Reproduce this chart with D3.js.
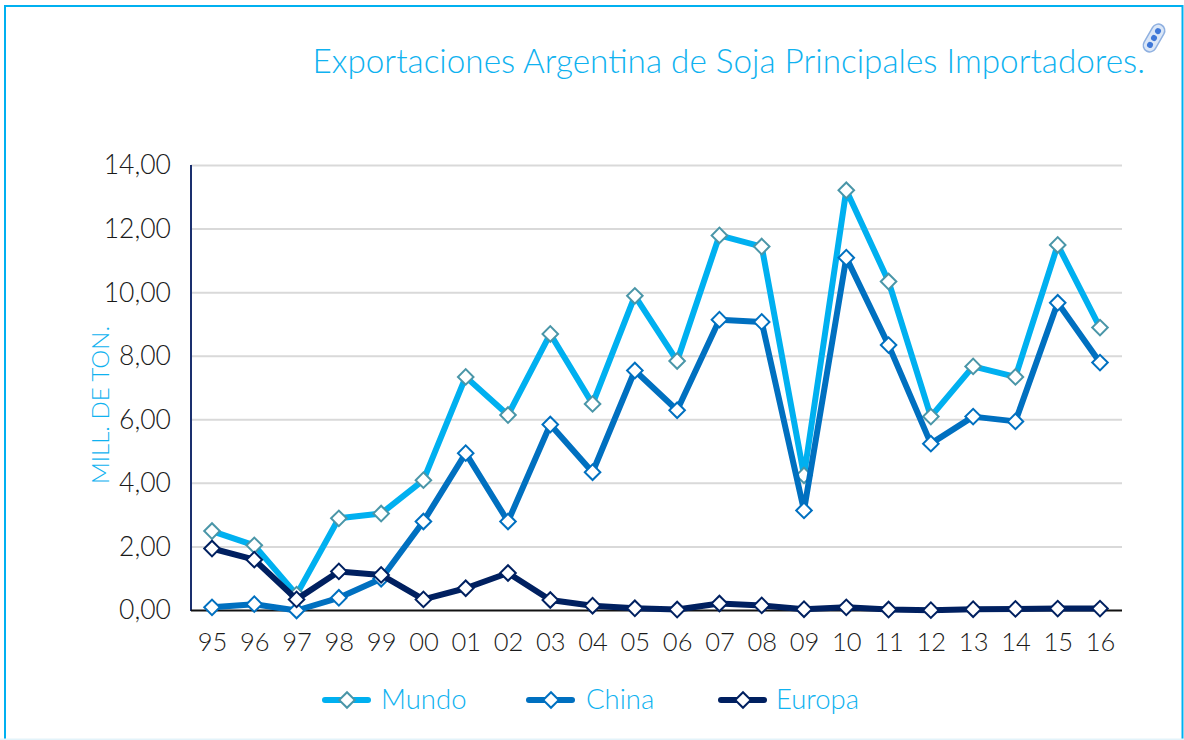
<!DOCTYPE html>
<html><head><meta charset="utf-8">
<script src="https://cdn.jsdelivr.net/npm/d3@7/dist/d3.min.js"></script>
<style>html,body{margin:0;padding:0;background:#fff}svg{display:block}text{font-family:Lato,"Open Sans",sans-serif;font-weight:300}</style>
</head><body><svg id="c" width="1184" height="740"></svg>
<script>
const years=["95","96","97","98","99","00","01","02","03","04","05","06","07","08","09","10","11","12","13","14","15","16"];
const mundo=[2.5,2.05,0.5,2.9,3.05,4.1,7.35,6.15,8.7,6.5,9.9,7.85,11.8,11.45,4.25,13.22,10.35,6.1,7.68,7.35,11.5,8.9];
const china=[0.1,0.2,0,0.4,1.0,2.8,4.95,2.8,5.85,4.35,7.55,6.3,9.15,9.08,3.15,11.1,8.35,5.25,6.1,5.95,9.68,7.8];
const europa=[1.95,1.6,0.35,1.23,1.12,0.35,0.7,1.18,0.33,0.15,0.07,0.03,0.22,0.16,0.04,0.1,0.03,0.01,0.04,0.05,0.06,0.06];
const yTicks=[0,2,4,6,8,10,12,14];
const seriesNames=["Mundo","China","Europa"];
const seriesValues=[mundo,china,europa];
const lineColors=["#00b0f0","#0070c0","#002060"];
const markerColors=["#4a96a8","#0070c0","#002060"];
const titleText="Exportaciones Argentina de Soja Principales Importadores.";
const yTitle="MILL. DE TON.";
const accent="#0fb2f0";

const svg=d3.select("#c");
svg.append("rect").attr("x",5).attr("y",6).attr("width",1177.5).attr("height",760).attr("fill","#fff").attr("stroke","#00b0f0").attr("stroke-width",2);
svg.append("rect").attr("x",0).attr("y",738.5).attr("width",1184).attr("height",1.5).attr("fill","#e3f3fa");

const x=d3.scalePoint().domain(years).range([212,1100]);
const y=d3.scaleLinear().domain([0,14]).range([610.5,165.5]);

svg.append("g").selectAll("line").data(yTicks.slice(1)).join("line")
 .attr("x1",191).attr("x2",1122).attr("y1",d=>y(d)).attr("y2",d=>y(d))
 .attr("stroke","#d9d9d9").attr("stroke-width",2);

const gy=svg.append("g").attr("transform","translate(191,0)").call(d3.axisLeft(y).tickValues(yTicks).tickSize(0).tickFormat(d=>d3.format(".2f")(d).replace(".",",")));
gy.select(".domain").attr("stroke","#1a2f6e").attr("stroke-width",2).attr("d","M0,165V611");
gy.selectAll("text").attr("font-size",26.5).attr("fill","#1a1a1a").attr("x",-20).style("font-family","Lato");

const gx=svg.append("g").attr("transform","translate(0,610.5)").call(d3.axisBottom(x).tickSize(0).tickPadding(22));
gx.select(".domain").attr("stroke","#111").attr("stroke-width",2).attr("d","M191,0H1122");
gx.selectAll("text").attr("font-size",25.5).attr("fill","#1a1a1a").style("font-family","Lato");

const line=d3.line().x((d,i)=>x(years[i])).y(d=>y(d));
const diamond=(g,cx,cy,c)=>g.append("path").attr("transform",`translate(${cx},${cy}) rotate(45)`).attr("d","M-5.5,-5.5H5.5V5.5H-5.5Z").attr("fill","#fff").attr("stroke",c).attr("stroke-width",2);
seriesValues.forEach((vals,k)=>{
  const g=svg.append("g");
  g.append("path").datum(vals).attr("d",line).attr("fill","none").attr("stroke",lineColors[k]).attr("stroke-width",6).attr("stroke-linejoin","round");
  vals.forEach((v,i)=>diamond(g,x(years[i]),y(v),markerColors[k]));
});

const legendX=[323,527,719];
const legendTextX=[381,586,776];
seriesNames.forEach((n,k)=>{
  const g=svg.append("g");
  g.append("line").attr("x1",legendX[k]+2).attr("x2",legendX[k]+45).attr("y1",700).attr("y2",700).attr("stroke",lineColors[k]).attr("stroke-width",6).attr("stroke-linecap","round");
  diamond(g,legendX[k]+24,700,markerColors[k]);
  g.append("text").attr("x",legendTextX[k]).attr("y",709).attr("font-size",27.5).attr("fill",accent).text(n);
});

svg.append("text").attr("x",1145).attr("y",73).attr("text-anchor","end").attr("font-size",33.3).attr("fill",accent).text(titleText);
svg.append("text").attr("transform","translate(109,405) rotate(-90)").attr("text-anchor","middle").attr("font-size",24).attr("fill",accent).text(yTitle);

const icon=svg.append("g").attr("transform","translate(1154,38) rotate(30)");
icon.append("rect").attr("x",-6.5).attr("y",-15).attr("width",13).attr("height",30).attr("rx",6.5).attr("fill","#dbe7f7").attr("stroke","#8fb0e0").attr("stroke-width",1.5);
[-8,0,8].forEach(d=>icon.append("circle").attr("cy",d).attr("r",3).attr("fill","#3f78d8"));
</script></body></html>
